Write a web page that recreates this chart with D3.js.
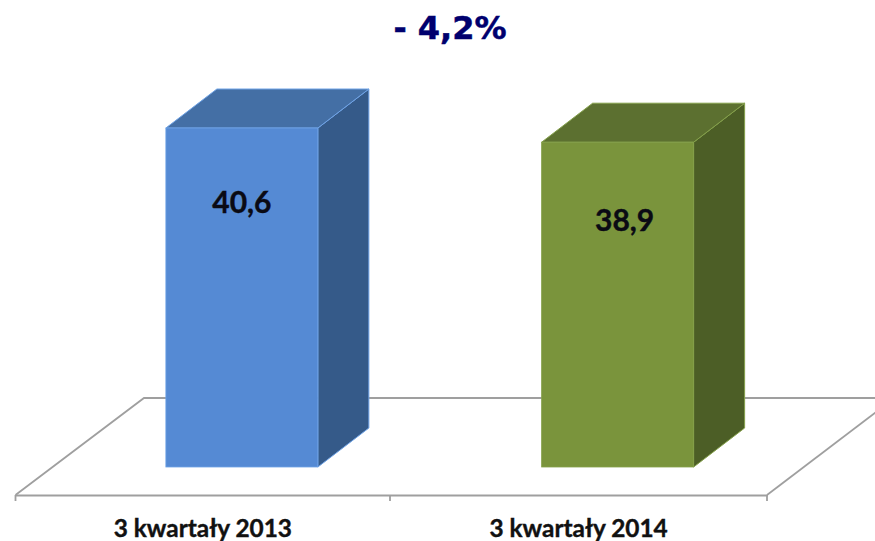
<!DOCTYPE html>
<html>
<head>
<meta charset="utf-8">
<script src="https://cdn.jsdelivr.net/npm/d3@7"></script>
<style>
html,body{margin:0;padding:0;background:#fff;overflow:hidden}
svg{display:block}
</style>
</head>
<body>
<svg id="chart" width="875" height="541"></svg>
<script>
const categories = ["3 kwartały 2013", "3 kwartały 2014"];
const values = [40.6, 38.9];
const valueLabels = ["40,6", "38,9"];
const titleText = "- 4,2%";
const frontColors = ["#558ad4", "#7a943c"];
const topColors = ["#446fa5", "#5c7030"];
const sideColors = ["#355a89", "#4c5e26"];
const edgeColors = ["#6fa3e6", "#84a04a"];
const labelShiftX = [0, 7];
const labelShiftY = [85, 89];

const W = 875, H = 541;
const svg = d3.select("#chart");
const depthX = 51, depthY = 39;
const floorY = 495, axisL = 15.5, axisR = 767;
const barW = 152, frontShift = 38.5;

const x = d3.scaleBand().domain(categories).range([axisL, axisR]);
const y = d3.scaleLinear().domain([0, 40.6]).range([467, 128]);

// floor
const floorColor = "#9f9f9f";
const floor = svg.append("g").attr("fill", "none").attr("stroke", floorColor).attr("stroke-width", 1.8);
floor.append("path").attr("d", d3.line()([[axisL, floorY], [144, 398], [880, 398]]));
floor.append("path").attr("d", d3.line()([[axisR, floorY], [880, 409]]));

// x axis with ticks
const axis = d3.axisBottom(x).tickValues([]).tickSizeOuter(0);
const axisG = svg.append("g").attr("transform", `translate(0,${floorY})`).call(axis);
axisG.select(".domain").attr("stroke", floorColor).attr("stroke-width", 1.8);
axisG.selectAll(".edgeTick").data([axisL, 390, axisR]).enter().append("line")
  .attr("class", "edgeTick")
  .attr("x1", d => d).attr("x2", d => d).attr("y1", 0).attr("y2", 6)
  .attr("stroke", floorColor).attr("stroke-width", 1.8);

// bars
const data = categories.map((c, i) => ({c, v: values[i], label: valueLabels[i], i}));
const bars = svg.append("g").selectAll("g").data(data).enter().append("g");
const left = d => x(d.c) + x.bandwidth() / 2 + frontShift - barW / 2;
const poly = pts => d3.line()(pts) + "Z";

bars.append("path") // side
  .attr("d", d => {
    const l = left(d) + barW, t = y(d.v), b = y(0);
    return poly([[l, t], [l + depthX, t - depthY], [l + depthX, b - depthY], [l, b]]);
  })
  .attr("fill", d => sideColors[d.i])
  .attr("stroke", d => edgeColors[d.i]).attr("stroke-width", 1).attr("stroke-linejoin", "round");

bars.append("path") // top
  .attr("d", d => {
    const l = left(d), t = y(d.v);
    return poly([[l, t], [l + depthX, t - depthY], [l + barW + depthX, t - depthY], [l + barW, t]]);
  })
  .attr("fill", d => topColors[d.i])
  .attr("stroke", d => edgeColors[d.i]).attr("stroke-width", 1).attr("stroke-linejoin", "round");

bars.append("rect") // front
  .attr("x", left).attr("y", d => y(d.v))
  .attr("width", barW).attr("height", d => y(0) - y(d.v))
  .attr("fill", d => frontColors[d.i])
  .attr("stroke", d => edgeColors[d.i]).attr("stroke-width", 0.8);

// value labels
bars.append("text")
  .attr("x", d => left(d) + barW / 2 + labelShiftX[d.i])
  .attr("y", d => y(d.v) + labelShiftY[d.i])
  .attr("text-anchor", "middle")
  .attr("font-family", "Lato, 'Open Sans', sans-serif")
  .attr("font-weight", 700).attr("font-size", 30).attr("fill", "#0a0a14")
  .attr("stroke", "#0a0a14").attr("stroke-width", 0.4)
  .text(d => d.label);

// category labels
svg.append("g").selectAll("text").data(categories).enter().append("text")
  .attr("x", d => x(d) + x.bandwidth() / 2 - 0.5)
  .attr("y", 537)
  .attr("text-anchor", "middle")
  .attr("font-family", "Lato, 'Open Sans', sans-serif")
  .attr("font-weight", 700).attr("font-size", 24.4).attr("fill", "#111")
  .attr("stroke", "#111").attr("stroke-width", 0.4)
  .text(d => d);

// title
svg.append("text")
  .attr("x", 450).attr("y", 38.5)
  .attr("text-anchor", "middle")
  .attr("font-family", "'DejaVu Sans', Verdana, sans-serif")
  .attr("font-weight", 700).attr("font-size", 32).attr("fill", "#00006e")
  .attr("stroke", "#00006e").attr("stroke-width", 0.5)
  .text(titleText);
</script>
</body>
</html>
